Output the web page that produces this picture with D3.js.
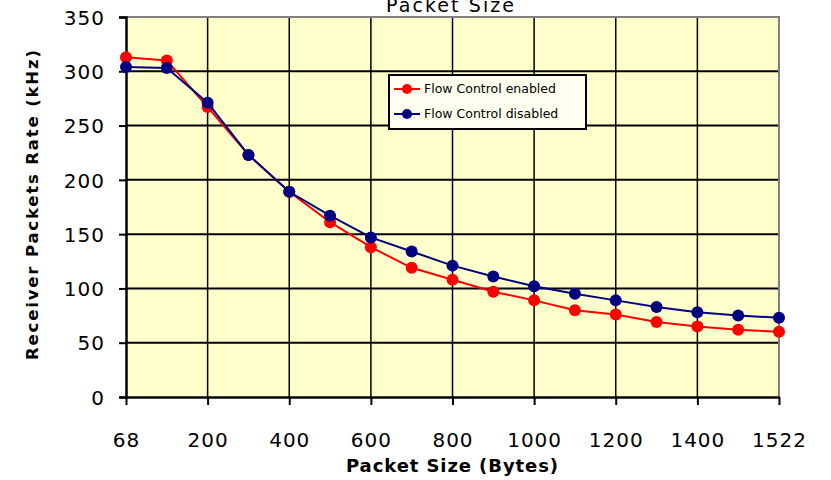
<!DOCTYPE html>
<html>
<head>
<meta charset="utf-8">
<script src="https://cdn.jsdelivr.net/npm/d3@7"></script>
<style>
  body { margin: 0; background: #fff; }
  svg text { font-family: "DejaVu Sans", Verdana, sans-serif; }
</style>
</head>
<body>
<div id="chart"></div>
<script>
const sizes = ["68", "100", "200", "300", "400", "500", "600", "700", "800", "900", "1000",
  "1100", "1200", "1300", "1400", "1500", "1522"];
const tickLabels = ["68", "200", "400", "600", "800", "1000", "1200", "1400", "1522"];
const enabled = [313, 310, 267, 223, 189, 161, 138, 119, 108, 97, 89, 80, 76, 69, 65, 62, 60];
const disabled = [304, 303, 271, 223, 189, 167, 147, 134, 121, 111, 102, 95, 89, 83, 78, 75, 73];
const yTicks = [0, 50, 100, 150, 200, 250, 300, 350];

const W = 831, H = 480;
const m = { left: 126, right: 52, top: 17, bottom: 83 };
const iw = W - m.left - m.right, ih = H - m.top - m.bottom;

const svg = d3.select("#chart").append("svg")
  .attr("width", W).attr("height", H);

const x = d3.scalePoint().domain(sizes).range([0, iw]);
const y = d3.scaleLinear().domain([0, 350]).range([ih, 0]);

const g = svg.append("g").attr("transform", `translate(${m.left},${m.top})`);

g.append("rect").attr("width", iw).attr("height", ih).attr("fill", "#ffffcc");

// horizontal grid
g.selectAll(".hg").data(yTicks.slice(1, -1)).join("line")
  .attr("x1", 0).attr("x2", iw)
  .attr("y1", d => y(d)).attr("y2", d => y(d))
  .attr("stroke", "#000").attr("stroke-width", 2);

// vertical grid at labelled categories
g.selectAll(".vg").data(tickLabels.slice(1, -1)).join("line")
  .attr("x1", d => x(d)).attr("x2", d => x(d))
  .attr("y1", 0).attr("y2", ih)
  .attr("stroke", "#000").attr("stroke-width", 1.5);

// grey top and right border
g.append("path").attr("d", `M0,0H${iw}V${ih}`)
  .attr("fill", "none").attr("stroke", "#808080").attr("stroke-width", 2);

// y axis
const yAxis = g.append("g").call(d3.axisLeft(y).tickValues(yTicks).tickSize(7).tickPadding(14));
yAxis.select(".domain").attr("stroke-width", 2.5);
yAxis.selectAll(".tick line").attr("stroke-width", 2);
yAxis.selectAll("text").attr("font-size", 20).attr("letter-spacing", 1)
  .attr("fill", "#000").attr("dy", "0.36em");

// x axis
const xAxis = g.append("g").attr("transform", `translate(0,${ih})`)
  .call(d3.axisBottom(x).tickValues(tickLabels).tickSize(8).tickPadding(28).tickSizeOuter(0));
xAxis.select(".domain").attr("stroke-width", 2.5);
xAxis.selectAll(".tick line").attr("stroke-width", 2);
xAxis.selectAll("text").attr("font-size", 20).attr("letter-spacing", 1).attr("fill", "#000");

const series = [
  { name: "Flow Control enabled", values: enabled, color: "#ff0000" },
  { name: "Flow Control disabled", values: disabled, color: "#000080" }
];

const line = d3.line().x((d, i) => x(sizes[i])).y(d => y(d));

series.forEach(s => {
  g.append("path").datum(s.values).attr("d", line)
    .attr("fill", "none").attr("stroke", s.color).attr("stroke-width", 2);
  g.selectAll(null).data(s.values).join("circle")
    .attr("cx", (d, i) => x(sizes[i])).attr("cy", d => y(d))
    .attr("r", 6).attr("fill", s.color);
});

// legend
const lg = svg.append("g").attr("transform", "translate(389,75)");
lg.append("rect").attr("width", 197).attr("height", 54)
  .attr("fill", "#fffff0").attr("stroke", "#000").attr("stroke-width", 2);
series.forEach((s, i) => {
  const ly = 14 + i * 25;
  lg.append("line").attr("x1", 5).attr("x2", 31).attr("y1", ly).attr("y2", ly)
    .attr("stroke", s.color).attr("stroke-width", 2);
  lg.append("circle").attr("cx", 18).attr("cy", ly).attr("r", 5).attr("fill", s.color);
  lg.append("text").attr("x", 35).attr("y", ly).attr("dy", "0.35em")
    .attr("font-size", 12.5).attr("fill", "#000").text(s.name);
});

// titles
svg.append("text").attr("x", 450).attr("y", 12).attr("text-anchor", "middle")
  .attr("font-size", 19).attr("textLength", 128).attr("lengthAdjust", "spacing")
  .text("Packet Size");
svg.append("text").attr("x", 452).attr("y", 472).attr("text-anchor", "middle")
  .attr("font-size", 18).attr("font-weight", "bold")
  .attr("textLength", 212).attr("lengthAdjust", "spacing").text("Packet Size (Bytes)");
svg.append("text")
  .attr("transform", `translate(38,${m.top + ih / 2 - 2}) rotate(-90)`)
  .attr("text-anchor", "middle").attr("font-size", 16.5).attr("font-weight", "bold")
  .attr("textLength", 310).attr("lengthAdjust", "spacing")
  .text("Receiver Packets Rate (kHz)");
</script>
</body>
</html>
